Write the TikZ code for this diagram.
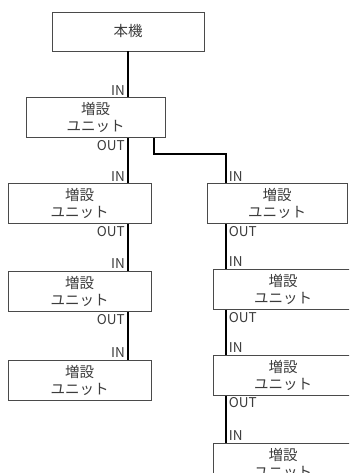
\documentclass[tikz,border=0pt]{standalone}
\usepackage{fontspec}
\usepackage{xcolor}
\usepackage{tikz}
\usetikzlibrary{positioning}
\newfontfamily\jpfont{Noto Sans CJK JP}
\definecolor{inkgray}{HTML}{3C3C3C}
\definecolor{framegray}{HTML}{4A4A4A}

\begin{document}
\begin{tikzpicture}[
  x=1pt, y=1pt,
  node distance=45pt,
  unit/.style={draw=framegray, line width=0.8pt, fill=white, align=center,
               text=inkgray, font=\jpfont\fontsize{14.5}{17}\selectfont,
               minimum height=40pt, inner sep=0pt},
  port/.style={text=inkgray, font=\jpfont\fontsize{13.5}{14}\selectfont,
               inner xsep=3pt, inner ysep=2pt},
  bus/.style={draw=black, line width=2pt}
]
\useasboundingbox (0,0) rectangle (349,-473);
\clip (0,0) rectangle (349,-473);
% host and first unit
\node[unit, minimum width=152pt, minimum height=39pt] (main) at (128,-31.5) {本機};
\node[unit, minimum width=139pt, below=46pt of main, xshift=-32.5pt] (u1) {増設\\ユニット};
% left chain
\node[unit, minimum width=143pt, below=45pt of u1, xshift=-16pt] (l2) {増設\\ユニット};
\node[unit, minimum width=143pt, below=47pt of l2] (l3) {増設\\ユニット};
\node[unit, minimum width=143pt, below=48pt of l3] (l4) {増設\\ユニット};
% right chain
\node[unit, minimum width=140pt, below=45pt of u1, xshift=181.5pt] (r1) {増設\\ユニット};
\node[unit, minimum width=140pt, below=45pt of r1, xshift=6pt] (r2) {増設\\ユニット};
\node[unit, minimum width=140pt, below=45pt of r2] (r3) {増設\\ユニット};
\node[unit, minimum width=140pt, below=47pt of r3] (r4) {増設\\ユニット};
\coordinate (rbus) at ([xshift=19pt]r1.north west);
\coordinate (br) at ([xshift=-11pt]u1.south east);
% cables
\draw[bus] (main.south) -- (main.south |- u1.north);
\draw[bus] (main.south |- u1.south) -- (main.south |- l2.north);
\draw[bus] (main.south |- l2.south) -- (main.south |- l3.north);
\draw[bus] (main.south |- l3.south) -- (main.south |- l4.north);
\draw[bus] (br) -- ++(0,-16) -| (rbus);
\draw[bus] (rbus |- r1.south) -- (rbus |- r2.north);
\draw[bus] (rbus |- r2.south) -- (rbus |- r3.north);
\draw[bus] (rbus |- r3.south) -- (rbus |- r4.north);
% port labels
\node[port, anchor=south east] (in1) at (main.south |- u1.north) {IN};
\node[port, anchor=north east] (out1) at (main.south |- u1.south) {OUT};
\node[port, anchor=south east] (inl2) at (main.south |- l2.north) {IN};
\node[port, anchor=north east] (outl2) at (main.south |- l2.south) {OUT};
\node[port, anchor=south east] (inl3) at (main.south |- l3.north) {IN};
\node[port, anchor=north east] (outl3) at (main.south |- l3.south) {OUT};
\node[port, anchor=south east] (inl4) at (main.south |- l4.north) {IN};
\node[port, anchor=south west] (inr1) at (rbus |- r1.north) {IN};
\node[port, anchor=north west] (outr1) at (rbus |- r1.south) {OUT};
\node[port, anchor=south west] (inr2) at (rbus |- r2.north) {IN};
\node[port, anchor=north west] (outr2) at (rbus |- r2.south) {OUT};
\node[port, anchor=south west] (inr3) at (rbus |- r3.north) {IN};
\node[port, anchor=north west] (outr3) at (rbus |- r3.south) {OUT};
\node[port, anchor=south west] (inr4) at (rbus |- r4.north) {IN};
\end{tikzpicture}
\end{document}
